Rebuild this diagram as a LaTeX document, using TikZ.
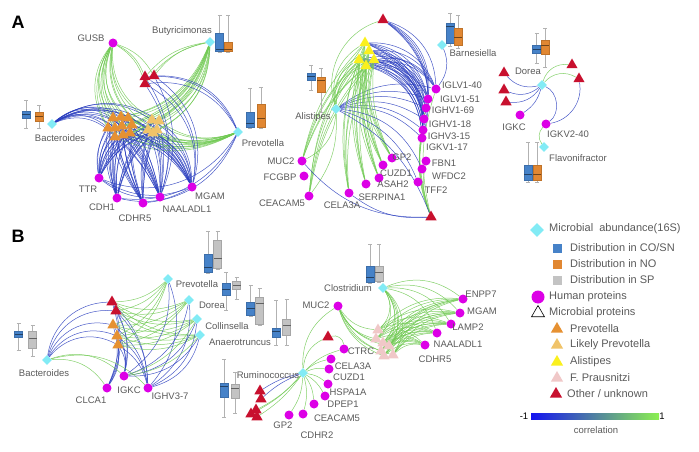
\documentclass[tikz,border=0pt]{standalone}
\usepackage{fontspec}
\setmainfont{Liberation Sans}
\usetikzlibrary{shapes.geometric,backgrounds}

\definecolor{micro}{RGB}{130,235,245}
\definecolor{hprot}{RGB}{220,0,230}
\definecolor{trired}{RGB}{200,16,46}
\definecolor{triorg}{RGB}{230,145,50}
\definecolor{trilight}{RGB}{240,195,105}
\definecolor{triyel}{RGB}{250,240,30}
\definecolor{tripink}{RGB}{240,200,200}
\definecolor{boxblue}{RGB}{70,130,200}
\definecolor{boxorange}{RGB}{225,135,50}
\definecolor{boxgray}{RGB}{195,195,195}
\definecolor{negcol}{RGB}{40,60,190}
\definecolor{poscol}{RGB}{110,200,80}
\definecolor{cbneg}{RGB}{20,20,240}
\definecolor{cbpos}{RGB}{140,240,80}
\definecolor{labgray}{RGB}{90,90,90}

\tikzset{
  mic/.style={diamond, fill=micro, inner sep=0pt, minimum size=10pt},
  hum/.style={circle, fill=hprot, inner sep=0pt, minimum size=9pt},
  tri/.style={regular polygon, regular polygon sides=3, fill=#1, inner sep=0pt, minimum size=13pt},
  lbl/.style={text=labgray, font=\fontsize{9.5}{10}\selectfont, inner sep=1pt},
  leg/.style={text=labgray, font=\fontsize{11}{12}\selectfont, anchor=west, inner sep=0pt},
  panel/.style={font=\fontsize{18}{18}\selectfont\bfseries},
  poscor/.style={draw=poscol, line width=0.5pt, opacity=0.85},
  negcor/.style={draw=negcol, line width=0.5pt, opacity=0.85},
  whisk/.style={draw=black!30, line width=0.4pt},
}

% node + its label
\newcommand{\hprot}[4]{\node[hum] (#1) at (#2) {}; \node[lbl] (#1t) at (#3) {#4};}
\newcommand{\microb}[4]{\node[mic] (#1) at (#2) {}; \node[lbl] (#1t) at (#3) {#4};}
% x, whisker top, box top, median, box bottom, whisker bottom, colour
\newcommand{\bxplot}[7]{%
  \draw[whisk] (#1,#2) -- (#1,#6) (#1-2,#2) -- (#1+2,#2) (#1-2,#6) -- (#1+2,#6);
  \draw[fill=#7, draw=#7!85!black, line width=0.3pt] (#1-4,#3) rectangle (#1+4,#5);
  \draw[#7!50!black, line width=0.8pt] (#1-4,#4) -- (#1+4,#4);}

\begin{document}
\begin{tikzpicture}[x=1pt,y=-1pt]
\useasboundingbox (0,0) rectangle (699,452);

\node[panel] (panA) at (18,22) {A};
\node[panel] (panB) at (18,236) {B};

% ---- A, left
\microb{aButy}{210,42}{182,31}{Butyricimonas}
\microb{aBact}{52,124}{60,138}{Bacteroides}
\microb{aPrev}{238,132}{263,143}{Prevotella}
\hprot{aGUSB}{113,43}{91,38}{GUSB}
\hprot{aTTR}{99,178}{88,189}{TTR}
\hprot{aCDH1}{117,198}{102,207}{CDH1}
\hprot{aCDHR5}{143,203}{135,218}{CDHR5}
\hprot{aNAAL}{160,197}{187,209}{NAALADL1}
\hprot{aMGAM}{192,187}{210,196}{MGAM}
\node[tri=triorg] (ao1) at (113,118) {};
\node[tri=triorg] (ao2) at (121,117) {};
\node[tri=triorg] (ao3) at (128,118) {};
\node[tri=triorg] (ao4) at (108,128) {};
\node[tri=triorg] (ao5) at (115,128) {};
\node[tri=triorg] (ao6) at (122,126) {};
\node[tri=triorg] (ao7) at (132,125) {};
\node[tri=triorg] (ao8) at (115,137) {};
\node[tri=triorg] (ao9) at (123,135) {};
\node[tri=triorg] (ao10) at (130,133) {};
\node[tri=trilight] (al1) at (152,120) {};
\node[tri=trilight] (al2) at (159,121) {};
\node[tri=trilight] (al3) at (148,130) {};
\node[tri=trilight] (al4) at (157,130) {};
\node[tri=trilight] (al5) at (153,133) {};
\node[tri=trired] (ar1) at (145,77) {};
\node[tri=trired] (ar2) at (154,76) {};
\node[tri=trired] (ar3) at (145,84) {};
\bxplot{219.5}{15}{33}{49}{51}{52}{boxblue}
\bxplot{228}{15}{42}{49}{51}{52}{boxorange}
\bxplot{26}{100}{111}{114}{118}{128}{boxblue}
\bxplot{39}{105}{112}{116}{121}{128}{boxorange}
\bxplot{250}{88}{112}{123}{127}{128}{boxblue}
\bxplot{261}{87}{104}{118}{127}{128}{boxorange}

% ---- A, middle
\microb{aAlis}{336,109}{313,117}{Alistipes}
\microb{aBarn}{442,45}{473,53}{Barnesiella}
\node[tri=trired] (art) at (383,20) {};
\node[tri=trired] (arb) at (431,217) {};
\node[tri=triyel] (ay1) at (365,43) {};
\node[tri=triyel] (ay2) at (369,51) {};
\node[tri=triyel] (ay3) at (359,60) {};
\node[tri=triyel] (ay4) at (374,60) {};
\node[tri=triyel] (ay5) at (366,66) {};
\hprot{aIGLVa}{436,89}{462,85}{IGLV1-40}
\hprot{aIGLVb}{428,99}{460,99}{IGLV1-51}
\hprot{aIGHVa}{426,108}{453,110}{IGHV1-69}
\hprot{aIGHVb}{424,119}{450,124}{IGHV1-18}
\hprot{aIGHVc}{423,130}{449,136}{IGHV3-15}
\hprot{aIGKV}{422,138}{447,147}{IGKV1-17}
\hprot{aFBN1}{426,161}{444,163}{FBN1}
\hprot{aWFDC2}{422,169}{449,176}{WFDC2}
\hprot{aTFF2}{418,182}{436,190}{TFF2}
\hprot{aGP2}{392,158}{402,157}{GP2}
\hprot{aCUZD1}{383,165}{396,173}{CUZD1}
\hprot{aASAH2}{379,178}{393,184}{ASAH2}
\hprot{aSERP}{366,184}{382,197}{SERPINA1}
\hprot{aCELA}{349,193}{342,205}{CELA3A}
\hprot{aMUC2}{302,161}{281,161}{MUC2}
\hprot{aFCGBP}{304,176}{280,177}{FCGBP}
\hprot{aCEAC}{309,196}{282,203}{CEACAM5}
\bxplot{450}{13}{23}{26}{43}{46}{boxblue}
\bxplot{458}{15}{28}{37}{45}{48}{boxorange}
\bxplot{311}{65}{73}{76}{80}{90}{boxblue}
\bxplot{321}{68}{77}{80}{92}{112}{boxorange}

% ---- A, right
\microb{aDorea}{542,85}{528,71}{Dorea}
\microb{aFlav}{544,147}{578,158}{Flavonifractor}
\hprot{aIGKC}{520,115}{514,127}{IGKC}
\hprot{aIGKVb}{546,124}{568,134}{IGKV2-40}
\node[tri=trired] (ad1) at (504,73) {};
\node[tri=trired] (ad2) at (504,90) {};
\node[tri=trired] (ad3) at (506,102) {};
\node[tri=trired] (ad4) at (572,65) {};
\node[tri=trired] (ad5) at (579,79) {};
\bxplot{536.5}{33}{45}{49}{53}{63}{boxblue}
\bxplot{545}{28}{40}{45}{54}{67}{boxorange}
\bxplot{528}{142}{165}{174}{180}{182}{boxblue}
\bxplot{537}{142}{165}{174}{180}{182}{boxorange}

% ---- B, left
\microb{bPrev}{168,279}{197,284}{Prevotella}
\microb{bDorea}{189,300}{212,305}{Dorea}
\microb{bColl}{197,319}{227,326}{Collinsella}
\microb{bAnae}{200,335}{240,342}{Anaerotruncus}
\microb{bBact}{47,360}{44,373}{Bacteroides}
\node[tri=trired] (bt1) at (112,302) {};
\node[tri=trired] (bt2) at (116,311) {};
\node[tri=triorg] (bt3) at (113,325) {};
\node[tri=triorg] (bt4) at (117,336) {};
\node[tri=triorg] (bt5) at (118,345) {};
\hprot{bCLCA1}{107,388}{91,400}{CLCA1}
\hprot{bIGKC}{124,376}{129,390}{IGKC}
\hprot{bIGHV}{148,388}{170,396}{IGHV3-7}
\bxplot{18.5}{323}{331}{334}{337}{350}{boxblue}
\bxplot{32.5}{325}{331}{338}{348}{356}{boxgray}
\bxplot{208}{231}{254}{267}{272}{273}{boxblue}
\bxplot{217.5}{231}{240}{258}{268}{269}{boxgray}
\bxplot{226}{272}{283}{289}{295}{310}{boxblue}
\bxplot{236.5}{277}{281}{285}{289}{299}{boxgray}
\bxplot{250.5}{285}{302}{308}{315}{316}{boxblue}
\bxplot{259.5}{288}{297}{303}{324}{325}{boxgray}
\bxplot{276}{300}{328}{331}{337}{345}{boxblue}
\bxplot{286.5}{299}{319}{325}{335}{345}{boxgray}

% ---- B, right
\microb{bRumi}{303,373}{268,375}{Ruminococcus}
\microb{bClos}{383,288}{348,288}{Clostridium}
\hprot{bMUC2}{338,306}{316,305}{MUC2}
\node[tri=trired] (brt) at (328,337) {};
\hprot{bCTRC}{344,349}{361,351}{CTRC}
\hprot{bCELA}{331,359}{353,366}{CELA3A}
\hprot{bCUZD1}{329,369}{349,377}{CUZD1}
\hprot{bHSPA}{328,384}{348,392}{HSPA1A}
\hprot{bDPEP}{325,396}{343,404}{DPEP1}
\hprot{bCEAC}{314,404}{337,418}{CEACAM5}
\hprot{bCDHR2}{303,414}{317,435}{CDHR2}
\hprot{bGP2}{289,415}{283,425}{GP2}
\node[tri=trired] (brr1) at (260,391) {};
\node[tri=trired] (brr2) at (261,399) {};
\node[tri=trired] (brr3) at (256,410) {};
\node[tri=trired] (brr4) at (251,414) {};
\node[tri=trired] (brr5) at (257,417) {};
\node[tri=tripink] (bp1) at (378,330) {};
\node[tri=tripink] (bp2) at (376,339) {};
\node[tri=tripink] (bp3) at (383,343) {};
\node[tri=tripink] (bp4) at (389,346) {};
\node[tri=tripink] (bp5) at (381,351) {};
\node[tri=tripink] (bp6) at (393,355) {};
\node[tri=tripink] (bp7) at (384,356) {};
\hprot{bENPP7}{463,299}{481,294}{ENPP7}
\hprot{bMGAM}{460,313}{482,311}{MGAM}
\hprot{bLAMP2}{451,324}{468,327}{LAMP2}
\hprot{bNAAL}{437,333}{458,344}{NAALADL1}
\hprot{bCDHR5}{425,345}{435,359}{CDHR5}
\bxplot{224}{359}{383}{386}{397}{417}{boxblue}
\bxplot{235}{372}{384}{388}{398}{413}{boxgray}
\bxplot{370}{244}{266}{277}{282}{283}{boxblue}
\bxplot{379}{244}{266}{272}{281}{282}{boxgray}

% ---- correlations
\begin{pgfonlayer}{background}
\def\aTri{ao1,ao2,ao3,ao4,ao5,ao6,ao7,ao8,ao9,ao10,al1,al2,al3,al4,al5}
\foreach \t in \aTri {
  \draw[poscor] (aGUSB) to[bend right=35] (\t);
  \draw[poscor] (aButy) to[bend left=30] (\t);
  \draw[poscor] (aPrev) to[bend left=25] (\t);
  \draw[negcor] (aBact) to[bend left=35] (\t);
  \draw[negcor] (aTTR) to[bend left=20] (\t);
  \draw[negcor] (aCDH1) to[bend left=15] (\t);
  \draw[negcor] (aCDHR5) to[bend left=10] (\t);
  \draw[negcor] (aNAAL) to[bend right=10] (\t);
  \draw[negcor] (aMGAM) to[bend right=25] (\t);
}
\foreach \t in {ar1,ar2,ar3} {
  \draw[poscor] (aGUSB) to[bend left=20] (\t);
  \draw[poscor] (aButy) to[bend right=20] (\t);
  \draw[negcor] (aPrev) to[bend right=35] (\t);
  \draw[negcor] (\t) to[bend left=35] (aMGAM);
  \draw[negcor] (\t) to[bend left=25] (aNAAL);
}
\draw[negcor] (aTTR) to[bend right=25] (aMGAM);
\draw[negcor] (aTTR) to[bend right=20] (aNAAL);
\draw[negcor] (aCDH1) to[bend right=20] (aMGAM);
\draw[negcor] (aPrev) to[bend left=40] (aTTR);
\draw[negcor] (aPrev) to[bend left=35] (aCDH1);
\draw[negcor] (aPrev) to[bend left=30] (aCDHR5);

\def\aIG{aIGLVa,aIGLVb,aIGHVa,aIGHVb,aIGHVc,aIGKV}
\foreach \p in \aIG {
  \foreach \t in {ay1,ay2,ay3,ay4,ay5}
    \draw[negcor] (\t) to[bend left=35] (\p);
  \draw[negcor] (art) to[bend left=35] (\p);
  \draw[negcor] (aAlis) to[bend left=25] (\p);
  \draw[poscor] (\p) to[bend right=15] (arb);
}
\foreach \t in {ay1,ay2,ay3,ay4,ay5} {
  \draw[poscor] (aAlis) to[bend left=35] (\t);
  \foreach \p in {aGP2,aCUZD1,aASAH2,aSERP,aCELA,aMUC2,aCEAC}
    \draw[poscor] (\t) to[bend right=15] (\p);
}
\draw[poscor] (aAlis) to[bend left=45] (art);
\draw[poscor] (aAlis) to[bend left=30] (aMUC2);
\draw[poscor] (aAlis) to[bend left=20] (aCEAC);
\draw[poscor] (aFBN1) to[bend right=15] (arb);
\draw[negcor] (aAlis) to[bend left=20] (arb);
\draw[negcor] (aAlis) to[bend left=30] (aWFDC2);
\draw[negcor] (aAlis) to[bend left=25] (aTFF2);
\draw[negcor] (aMUC2) to[bend right=25] (arb);
\draw[negcor] (aCELA) to[bend right=20] (arb);
\draw[negcor] (aBarn) to[bend left=30] (aIGLVa);

\foreach \t in {ad1,ad2,ad3}
  \draw[negcor] (aDorea) to[bend left=30] (\t);
\draw[negcor] (aDorea) to[bend left=20] (aIGKC);
\draw[poscor] (aDorea) to[bend left=40] (ad4);
\draw[poscor] (aDorea) to[bend left=40] (ad5);
\draw[negcor] (aDorea) to[bend left=60] (aIGKVb);
\draw[negcor] (aIGKVb) to[bend right=45] (ad5);
\draw[poscor] (aFlav) to[bend left=40] (aIGKVb);

\foreach \t in {bt1,bt2,bt3,bt4,bt5} {
  \draw[negcor] (bBact) to[bend left=40] (\t);
  \foreach \m in {bPrev,bDorea,bColl,bAnae}
    \draw[poscor] (\t) to[bend right=20] (\m);
  \foreach \p in {bCLCA1,bIGKC,bIGHV}
    \draw[negcor] (\t) to[bend left=20] (\p);
}
\foreach \p in {bCLCA1,bIGKC,bIGHV}
  \draw[poscor] (bBact) to[bend left=30] (\p);
\foreach \m in {bPrev,bDorea,bColl,bAnae} {
  \draw[negcor] (\m) to[bend left=30] (bIGKC);
  \draw[negcor] (\m) to[bend left=30] (bIGHV);
}
\draw[poscor] (bIGKC) to[bend right=20] (bColl);
\draw[poscor] (bIGKC) to[bend right=20] (bAnae);

\foreach \p in {bCTRC,bCELA,bCUZD1,bHSPA,bDPEP,bCEAC,bCDHR2,bGP2}
  \draw[poscor] (bRumi) to[bend left=15] (\p);
\draw[poscor] (bRumi) to[bend left=30] (brt);
\draw[negcor] (bRumi) to[bend right=10] (brr1);
\draw[negcor] (bRumi) to[bend right=10] (brr2);
\foreach \t in {brr3,brr4,brr5}
  \draw[poscor] (bRumi) to[bend left=10] (\t);
\draw[poscor] (bMUC2) to[bend right=30] (bRumi);
\draw[poscor] (brt) to[bend left=50] (bCTRC);
\foreach \t in {bp1,bp2,bp3,bp4,bp5,bp6,bp7} {
  \draw[poscor] (bMUC2) to[bend right=25] (\t);
  \draw[poscor] (bClos) to[bend left=40] (\t);
  \foreach \p in {bENPP7,bMGAM,bLAMP2,bNAAL,bCDHR5}
    \draw[poscor] (\p) to[bend right=25] (\t);
}
\foreach \p in {bENPP7,bMGAM,bLAMP2,bNAAL}
  \draw[poscor] (bClos) to[bend left=30] (\p);
\end{pgfonlayer}

% ---- legend
\node[mic, minimum size=14pt] (lgMic) at (537,230) {};
\node[leg] (lgMict) at (549,229) {Microbial\ \ abundance(16S)};
\node[fill=boxblue, minimum size=9pt, inner sep=0pt] (lgBlue) at (557,248) {};
\node[leg] (lgBluet) at (570,248) {Distribution in CO/SN};
\node[fill=boxorange, minimum size=9pt, inner sep=0pt] (lgOrg) at (557,264) {};
\node[leg] (lgOrgt) at (570,264) {Distribution in NO};
\node[fill=boxgray, minimum size=9pt, inner sep=0pt] (lgGray) at (557,280) {};
\node[leg] (lgGrayt) at (570,280) {Distribution in SP};
\node[hum, minimum size=13pt] (lgHum) at (538,297) {};
\node[leg] (lgHumt) at (549,297) {Human proteins};
\node[tri=white, draw=black, line width=0.6pt, minimum size=15pt] (lgTri) at (538,313) {};
\node[leg] (lgTrit) at (549,313) {Microbial proteins};
\node[tri=triorg, minimum size=14pt] (lgPrev) at (557,329) {};
\node[leg] (lgPrevt) at (570,329) {Prevotella};
\node[tri=trilight, minimum size=14pt] (lgLike) at (557,345) {};
\node[leg] (lgLiket) at (570,345) {Likely Prevotella};
\node[tri=triyel, minimum size=14pt] (lgAlis) at (557,362) {};
\node[leg] (lgAlist) at (570,362) {Alistipes};
\node[tri=tripink, minimum size=14pt] (lgFp) at (557,378) {};
\node[leg] (lgFpt) at (570,378) {F. Prausnitzi};
\node[tri=trired, minimum size=14pt] (lgOth) at (556,394) {};
\node[leg] (lgOtht) at (567,394) {Other / unknown};
\shade[left color=cbneg, right color=cbpos] (531,413) rectangle (659,419);
\node[lbl, text=black] (cbLow) at (524,416) {-1};
\node[lbl, text=black] (cbHigh) at (662,416) {1};
\node[lbl] (cbName) at (596,430) {correlation};
\end{tikzpicture}
\end{document}
